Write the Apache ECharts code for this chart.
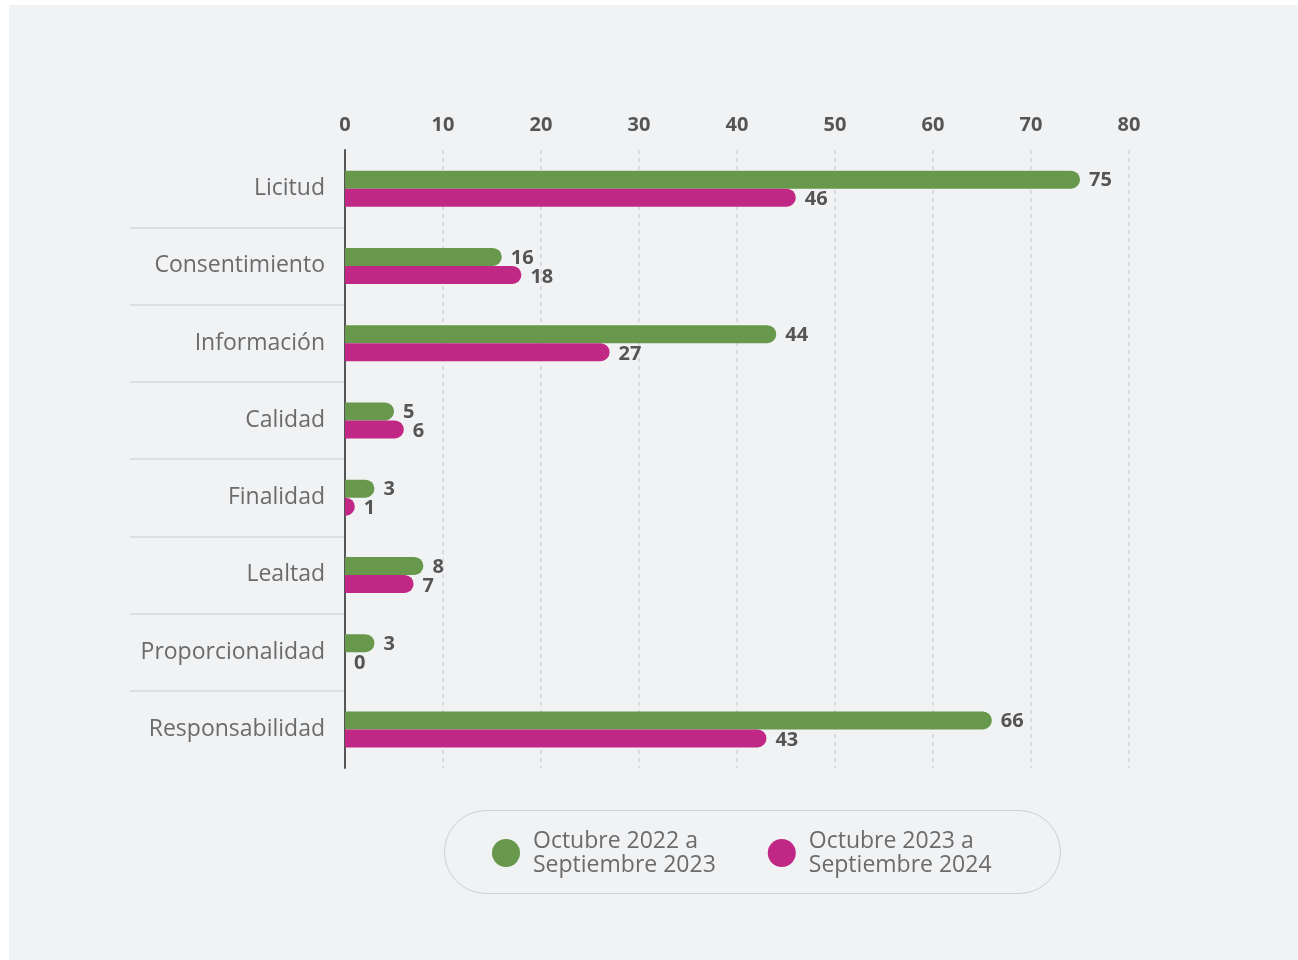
<!DOCTYPE html>
<html><head><meta charset="utf-8">
<script src="https://cdn.jsdelivr.net/npm/echarts@6/dist/echarts.min.js"></script>
<style>html,body{margin:0;padding:0;background:#fff;overflow:hidden}#c{position:absolute;left:9px;top:5px;width:1289px;height:955px}</style>
</head><body><div id="c"></div>
<script>
const categories = ['Licitud','Consentimiento','Información','Calidad','Finalidad','Lealtad','Proporcionalidad','Responsabilidad'];
const seriesNames = ['Octubre 2022 a\nSeptiembre 2023','Octubre 2023 a\nSeptiembre 2024'];
const values2023 = [75,16,44,5,3,8,3,66];
const values2024 = [46,18,27,6,1,7,0,43];
const xMin = 0, xMax = 80, xStep = 10;
const colors = ['#67984b','#c12885'];

const FONT = 'Open Sans';
const chart = echarts.init(document.getElementById('c'), null, {renderer:'canvas'});
const labelBase = {show:true, position:'right', distance:9, fontFamily:FONT, fontSize:20, fontWeight:'bold', color:'#555'};
chart.setOption({
  backgroundColor:'#f1f2f4',
  textStyle:{fontFamily:FONT},
  animation:false,
  grid:[
    {left:336, right:169, top:145, height:618, containLabel:false},
    {left:121, width:215, top:145, height:618, containLabel:false}
  ],
  xAxis:[
    {type:'value', gridIndex:0, position:'top', min:xMin, max:xMax, interval:xStep,
     axisLine:{show:false}, axisTick:{show:false},
     axisLabel:{fontFamily:FONT, fontSize:20, fontWeight:'bold', color:'#555', margin:15},
     splitLine:{show:true, lineStyle:{type:[4,4], color:'#d2d3d6', width:1.5}}},
    {type:'value', gridIndex:1, show:false}
  ],
  yAxis:[
    {type:'category', gridIndex:0, data:categories, inverse:true,
     axisLine:{show:true, lineStyle:{color:'#555', width:2}}, axisTick:{show:false},
     axisLabel:{fontFamily:FONT, fontSize:23, color:'#6b6b6b', margin:20},
     splitLine:{show:false}},
    {type:'category', gridIndex:1, data:categories, inverse:true,
     axisLine:{show:false}, axisTick:{show:false}, axisLabel:{show:false},
     splitLine:{show:true, showMinLine:false, showMaxLine:false, lineStyle:{color:'#d6d7da', width:1.5}}}
  ],
  legend:{
    left:478, top:819, icon:'circle', itemWidth:28, itemHeight:28, itemGap:52,
    textStyle:{fontFamily:FONT, fontSize:23, color:'#6b6b6b', lineHeight:24, padding:[0,0,0,8]},
    data:seriesNames
  },
  graphic:[
    {type:'rect', shape:{x:435.5, y:805.5, width:616, height:83, r:41.5},
     style:{fill:'none', stroke:'#cfd0d3', lineWidth:1}}
  ],
  series:[
    {name:seriesNames[0], type:'bar', xAxisIndex:0, yAxisIndex:0, data:values2023,
     barWidth:18, barGap:'0%', itemStyle:{color:colors[0], borderRadius:[0,9,9,0]},
     label:Object.assign({}, labelBase, {offset:[0,1]})},
    {name:seriesNames[1], type:'bar', xAxisIndex:0, yAxisIndex:0, data:values2024,
     barWidth:18, barGap:'0%', itemStyle:{color:colors[1], borderRadius:[0,9,9,0]},
     label:Object.assign({}, labelBase, {offset:[0,2]})}
  ]
});
</script></body></html>
